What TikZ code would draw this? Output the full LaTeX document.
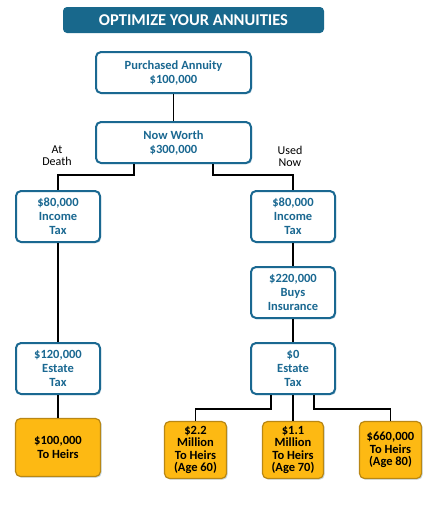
\documentclass[tikz,border=0pt]{standalone}
\usepackage{fontspec}
\setmainfont{Carlito}
\usepackage{tikz}
\usetikzlibrary{positioning,shadows}
\definecolor{mytitleblue}{RGB}{24,104,140}
\definecolor{myblue}{RGB}{26,104,145}
\definecolor{mygold}{RGB}{253,185,19}
\definecolor{mydarkgold}{RGB}{185,135,20}
\definecolor{myglow}{RGB}{196,216,228}

\begin{document}
\begin{tikzpicture}
    [x=1pt,y=-1pt,
     titlebar/.style={fill=mytitleblue,rounded corners=4pt,text=white,font=\fontsize{16.5}{18}\selectfont\bfseries,
        minimum width=261pt,minimum height=26pt,inner sep=0pt},
     bluebox/.style={draw=myblue,line width=2pt,fill=white,rounded corners=5pt,text=myblue,
        font=\fontsize{12.5}{14}\selectfont\bfseries,align=center,inner sep=0pt,
        drop shadow={shadow xshift=1.2pt,shadow yshift=-1.2pt,fill=myglow,opacity=1}},
     goldbox/.style={draw=mydarkgold,line width=1.2pt,fill=mygold,rounded corners=5pt,text=black,
        font=\fontsize{12.5}{12.3}\selectfont\bfseries,align=center,inner sep=0pt,
        drop shadow={shadow xshift=1.2pt,shadow yshift=-1.2pt,fill=myglow,opacity=1}},
     link/.style={draw=black,line width=1.6pt},
     side/.style={font=\fontsize{12}{12}\selectfont,align=center}]

    \useasboundingbox[fill=white] (0,0) rectangle (428,507);

    \node[titlebar] (title) at (193.5,20) {OPTIMIZE YOUR ANNUITIES};

    % top of the tree
    \node[bluebox,minimum width=155pt,minimum height=41pt] (buy) at (173.5,72.5) {Purchased Annuity\\\$100,000};
    \node[bluebox,minimum width=155pt,minimum height=41pt] (worth) at (173.5,142.5) {Now Worth\\\$300,000};

    \node[side] (death) at (57,156) {At\\Death};
    \node[side] (now) at (290,156) {Used\\Now};

    % left: at death
    \node[bluebox,minimum width=84pt,minimum height=51pt] (taxL) at (58,216.5) {\$80,000\\Income\\Tax};
    \node[bluebox,minimum width=84pt,minimum height=51pt] (estL) at (58,368.5) {\$120,000\\Estate\\Tax};
    \node[goldbox,minimum width=85pt,minimum height=58pt,font=\fontsize{12.5}{14}\selectfont\bfseries] (heirL) at (58,447.5) {\$100,000\\To Heirs};

    % right: used now
    \node[bluebox,minimum width=84pt,minimum height=51pt] (taxR) at (293,216.5) {\$80,000\\Income\\Tax};
    \node[bluebox,minimum width=84pt,minimum height=51pt] (insure) at (293,292.5) {\$220,000\\Buys\\Insurance};
    \node[bluebox,minimum width=84pt,minimum height=51pt] (estR) at (293,368.5) {\$0\\Estate\\Tax};

    \node[goldbox,minimum width=62pt,minimum height=57pt] (heirA) at (195.5,450) {\$2.2\\Million\\To Heirs\\(Age 60)};
    \node[goldbox,minimum width=61pt,minimum height=57pt] (heirB) at (293,450) {\$1.1\\Million\\To Heirs\\(Age 70)};
    \node[goldbox,minimum width=62pt,minimum height=57pt] (heirC) at (390.5,450) {\$660,000\\To Heirs\\(Age 80)};

    \draw[link] (buy) -- (worth);
    \draw[link] ([xshift=-39.5pt]worth.south) -- ++(0,11) -| (taxL);
    \draw[link] ([xshift=39.5pt]worth.south) -- ++(0,11) -| (taxR);
    \draw[link] (taxL) -- (estL);
    \draw[link] (estL) -- (heirL);
    \draw[link] (taxR) -- (insure);
    \draw[link] (insure) -- (estR);
    \draw[link] ([xshift=-22pt]estR.south) -- ++(0,14) -| (heirA);
    \draw[link] (estR) -- (heirB);
    \draw[link] ([xshift=21pt]estR.south) -- ++(0,14) -| (heirC);
\end{tikzpicture}
\end{document}
